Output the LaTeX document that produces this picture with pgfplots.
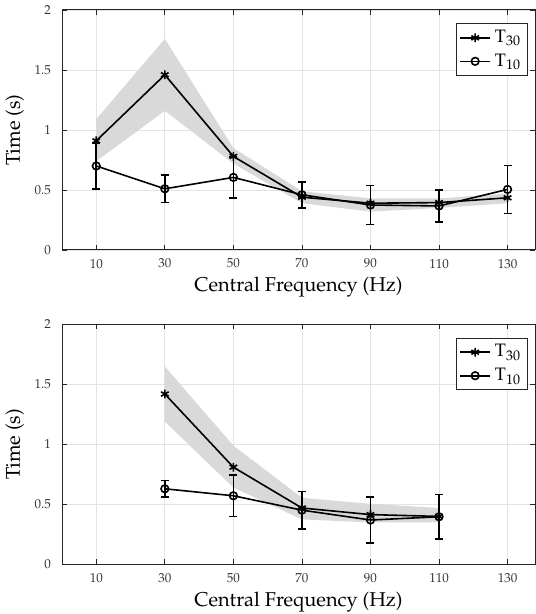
\documentclass[border=0pt]{standalone}
\usepackage[T1]{fontenc}
\usepackage{mathpazo}
\usepackage{pgfplots}
\pgfplotsset{compat=1.18}

\pgfplotsset{
  freqax/.style={
    scale only axis,
    width=236.5pt, height=120pt,
    xmin=0, xmax=138, ymin=0, ymax=2,
    xtick={10,30,...,130}, ytick={0,0.5,...,2},
    grid=major,
    major grid style={draw=black!11, line width=0.4pt},
    axis line style={draw=black!85, line width=0.5pt},
    tick style={draw=black!85, line width=0.4pt},
    tick align=inside, major tick length=2.5pt,
    tick label style={font=\fontsize{6.5}{7}\selectfont, text=black!80},
    xticklabel style={yshift=-1pt},
    yticklabel style={xshift=-2pt},
    label style={font=\fontsize{10}{11}\selectfont},
    every axis x label/.style={at={(axis description cs:0.5,0)}, anchor=base, yshift=-21pt},
    every axis y label/.style={at={(axis description cs:-0.0888,0.5)}, rotate=90, anchor=base},
    xlabel={Central Frequency (Hz)},
    ylabel={Time (s)},
    legend cell align=left,
    legend image code/.code={
      \draw[mark repeat=2, mark phase=2] plot coordinates {(0pt,0pt) (7.5pt,0pt) (15pt,0pt)};},
    legend style={at={(0.985,0.945)}, anchor=north east,
      draw=black!85, fill=white, line width=0.5pt,
      font=\fontsize{9}{10}\selectfont,
      inner sep=1.2pt, row sep=0pt},
  },
  t30/.style={black, line width=0.8pt, mark=asterisk, mark size=2.2pt,
    mark options={line width=0.8pt}},
  t10/.style={black, line width=0.8pt, mark=o, mark size=1.9pt,
    error bars/.cd, y dir=both, y explicit,
    error bar style={line width=0.8pt},
    error mark options={rotate=90, mark size=2pt, line width=0.8pt}},
  band/.style={draw=none, fill=black!15, forget plot},
}

\begin{document}
\begin{tikzpicture}
% upper panel
\begin{axis}[freqax]
\addplot[band] coordinates {
  (10,1.09) (30,1.76) (50,0.85) (70,0.49) (90,0.43) (110,0.43) (130,0.47)
  (130,0.39) (110,0.35) (90,0.32) (70,0.39) (50,0.72) (30,1.16) (10,0.74)
} --cycle;
\addplot[t30] coordinates {
  (10,0.91) (30,1.46) (50,0.78) (70,0.44) (90,0.39) (110,0.395) (130,0.435)
};
\addplot[t10] coordinates {
  (10,0.70)  +- (0,0.19)
  (30,0.51)  +- (0,0.115)
  (50,0.605) +- (0,0.17)
  (70,0.46)  +- (0,0.108)
  (90,0.375) +- (0,0.164)
  (110,0.367) +- (0,0.135)
  (130,0.505) +- (0,0.2)
};
\legend{T$_{30}$, T$_{10}$}
\end{axis}

% lower panel
\begin{axis}[freqax, at={(0,-157.2pt)}]
\addplot[band] coordinates {
  (30,1.65) (50,0.99) (70,0.555) (90,0.505) (110,0.47)
  (110,0.35) (90,0.35) (70,0.375) (50,0.64) (30,1.19)
} --cycle;
\addplot[t30] coordinates {
  (30,1.42) (50,0.81) (70,0.47) (90,0.415) (110,0.40)
};
\addplot[t10] coordinates {
  (30,0.63)  +- (0,0.07)
  (50,0.572) +- (0,0.172)
  (70,0.452) +- (0,0.157)
  (90,0.37)  +- (0,0.19)
  (110,0.397) +- (0,0.187)
};
\legend{T$_{30}$, T$_{10}$}
\end{axis}
% page frame as in the reference
\pgfresetboundingbox
\useasboundingbox (-31pt,125pt) rectangle (236.5pt,-182pt);
\end{tikzpicture}
\end{document}
